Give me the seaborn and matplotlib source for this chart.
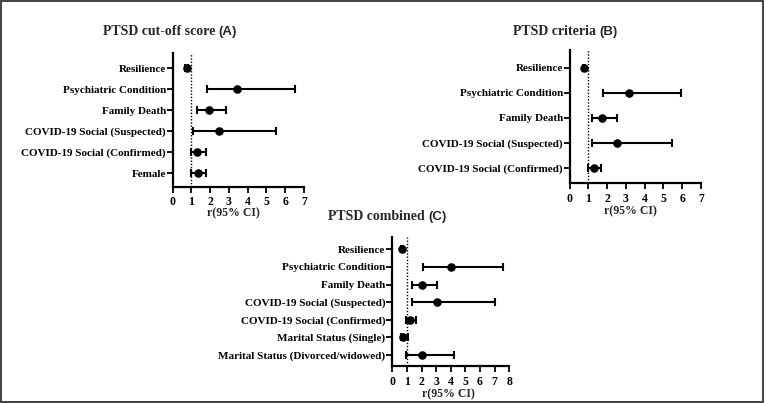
import matplotlib
matplotlib.use("Agg")
import matplotlib.pyplot as plt
import seaborn as sns
import pandas as pd
from matplotlib.patches import Rectangle

# ---------------- data ----------------
cats_a = ["Resilience", "Psychiatric Condition", "Family Death",
          "COVID-19 Social (Suspected)", "COVID-19 Social (Confirmed)", "Female"]
est_a = [0.75, 3.44, 1.92, 2.47, 1.31, 1.35]
lo_a = [0.68, 1.85, 1.28, 1.10, 0.99, 1.00]
hi_a = [0.82, 6.50, 2.84, 5.50, 1.78, 1.78]

cats_b = ["Resilience", "Psychiatric Condition", "Family Death",
          "COVID-19 Social (Suspected)", "COVID-19 Social (Confirmed)"]
est_b = [0.78, 3.17, 1.70, 2.50, 1.28]
lo_b = [0.72, 1.76, 1.20, 1.20, 0.99]
hi_b = [0.84, 5.94, 2.50, 5.43, 1.67]

cats_c = ["Resilience", "Psychiatric Condition", "Family Death",
          "COVID-19 Social (Suspected)", "COVID-19 Social (Confirmed)",
          "Marital Status (Single)", "Marital Status (Divorced/widowed)"]
est_c = [0.68, 3.98, 2.00, 3.07, 1.23, 0.75, 2.00]
lo_c = [0.62, 2.07, 1.32, 1.32, 0.95, 0.57, 0.95]
hi_c = [0.74, 7.57, 3.07, 7.00, 1.61, 1.07, 4.25]

xticks_a = [0, 1, 2, 3, 4, 5, 6, 7]
xticks_c = [0, 1, 2, 3, 4, 5, 6, 7, 8]

titles = ["PTSD cut-off score", "PTSD criteria", "PTSD combined"]
title_tags = ["(A)", "(B)", "(C)"]
xlabel = "r(95% CI)"

# ---------------- style ----------------
sns.set_theme(style="ticks")
SERIF = ["Liberation Serif", "DejaVu Serif"]
SANS = ["Liberation Sans", "DejaVu Sans"]
plt.rcParams["font.family"] = SERIF
plt.rcParams["font.weight"] = "bold"

W, H = 766, 403
fig = plt.figure(figsize=(W / 100, H / 100), dpi=100)


def px_axes(left, top, right, bottom):
    return fig.add_axes([left / W, 1 - bottom / H, (right - left) / W, (bottom - top) / H])


def panel(ax, cats, est, lo, hi, xticks, h_px, label_x, label_gap_px):
    df = pd.DataFrame({"cat": cats, "est": est, "lo": lo, "hi": hi})
    err = [df["est"] - df["lo"], df["hi"] - df["est"]]
    ax.errorbar(df["est"], df["cat"], xerr=err, fmt="none", ecolor="black",
                elinewidth=1.5, capsize=3.2, capthick=1.5, zorder=2)
    sns.scatterplot(data=df, x="est", y="cat", ax=ax, color="black", s=38,
                    edgecolor="black", linewidth=0, zorder=3, legend=False)
    ax.axvline(1, color="black", linestyle=(0, (1, 1.3)), linewidth=1.0, zorder=1)
    n = len(cats)
    ax.set_ylim(n - 1 + 0.63, -0.72)
    ax.set_xlim(xticks[0], xticks[-1])
    ax.set_xticks(xticks)
    ax.set_xticklabels([str(t) for t in xticks], fontsize=8.5, fontweight="bold")
    ax.set_yticks(range(n))
    ax.set_yticklabels(cats, fontsize=8, fontweight="bold")
    ax.set_ylabel("")
    ax.set_xlabel(xlabel, fontsize=8.5, fontweight="bold")
    ax.xaxis.set_label_coords(label_x, -label_gap_px / h_px)
    for s in ["top", "right"]:
        ax.spines[s].set_visible(False)
    for s in ["left", "bottom"]:
        ax.spines[s].set_linewidth(1.6)
        ax.spines[s].set_color("black")
    ax.tick_params(axis="y", length=4, width=1.3, pad=1, colors="black")
    ax.tick_params(axis="x", length=4.5, width=1.3, pad=2.5, colors="black")
    ax.set_facecolor("white")


ax_a = px_axes(172.7, 53, 304, 186.7)
panel(ax_a, cats_a, est_a, lo_a, hi_a, xticks_a, 133.7, 0.46, 20.5)

ax_b = px_axes(569.7, 50, 701, 183.3)
panel(ax_b, cats_b, est_b, lo_b, hi_b, xticks_a, 133.3, 0.46, 21.5)

ax_c = px_axes(392.3, 236.7, 509.3, 366)
panel(ax_c, cats_c, est_c, lo_c, hi_c, xticks_c, 129.3, 0.48, 22)

# titles: serif main part + sans tag
title_pos = [(215, 31.7), (596, 31.7), (425, 216.7)]
for (x, y), t, tag in zip(title_pos, titles, title_tags):
    fig.text(x / W, 1 - y / H, t, ha="right", va="center", fontsize=10,
             fontweight="bold", family=SERIF)
    fig.text((x + 3) / W, 1 - y / H, tag, ha="left", va="center", fontsize=9.5,
             fontweight="bold", family=SANS)

# outer frame
fig.patches.append(Rectangle((0.6 / W, 1.5 / H), (W - 3.5) / W, (H - 2.5) / H,
                             transform=fig.transFigure, fill=False,
                             edgecolor="#333333", linewidth=1.3))

fig.savefig("out.png", dpi=100, facecolor="white")
